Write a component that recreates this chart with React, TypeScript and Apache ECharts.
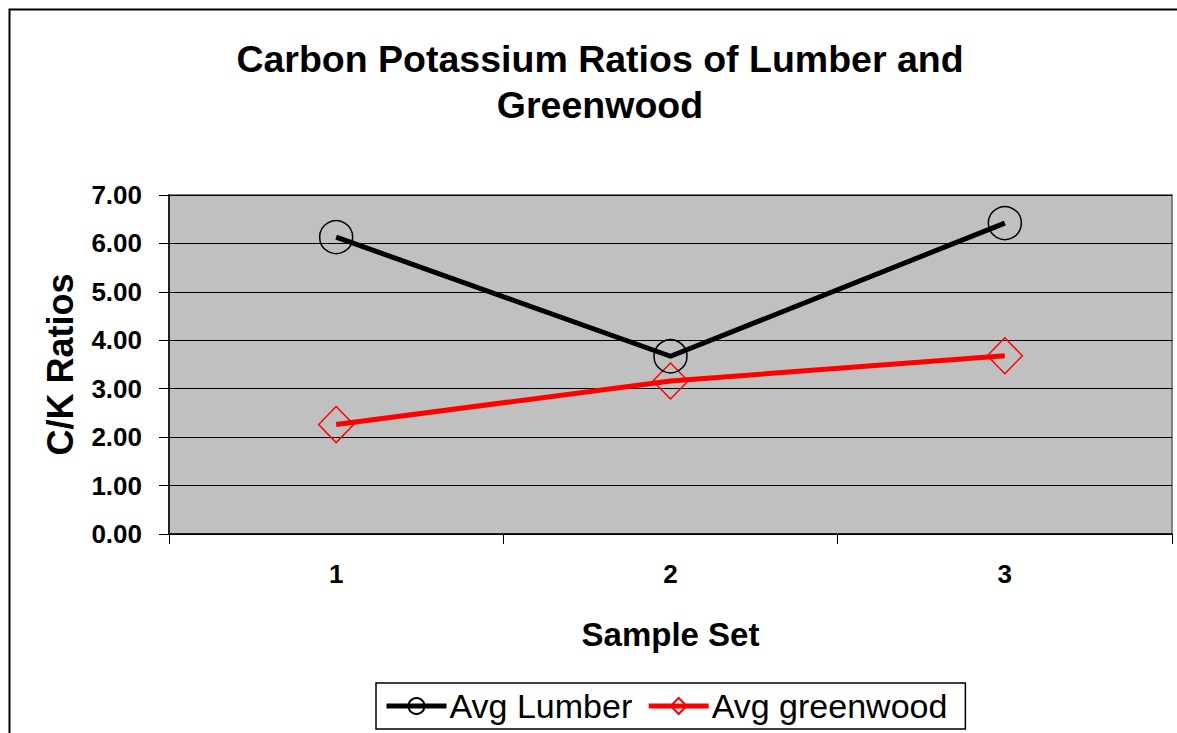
import React, { useEffect, useRef } from "react";
import * as echarts from "echarts";

const categories = ["1", "2", "3"];
const avgLumber = [6.13, 3.67, 6.42];
const avgGreenwood = [2.26, 3.16, 3.68];
const seriesNames = ["Avg Lumber", "Avg greenwood"];
const titleText = "Carbon Potassium Ratios of Lumber and\nGreenwood";
const xAxisName = "Sample Set";
const yAxisName = "C/K Ratios";

const FONT = "'Liberation Sans', Arial, sans-serif";

export default function App() {
  const ref = useRef<HTMLDivElement>(null);
  useEffect(() => {
    if (!ref.current) return;
    const chart = echarts.init(ref.current, undefined, { renderer: "svg" });
    chart.setOption({
      animation: false,
      backgroundColor: "#ffffff",
      textStyle: { fontFamily: FONT },
      graphic: [
        {
          type: "rect",
          shape: { x: 9.5, y: 9.5, width: 1400, height: 1000 },
          style: { fill: "none", stroke: "#000", lineWidth: 2 },
          z: 100,
        },
        {
          type: "text",
          x: 600,
          y: 36,
          style: {
            text: titleText,
            align: "center",
            verticalAlign: "top",
            font: `bold 37.5px ${FONT}`,
            lineHeight: 46,
            fill: "#000",
          },
        },
      ],
      grid: {
        left: 169,
        top: 195,
        right: 5,
        bottom: 199,
        show: true,
        backgroundColor: "#C0C0C0",
        borderColor: "#808080",
        borderWidth: 2,
      },
      legend: {
        data: seriesNames,
        left: 376,
        top: 683,
        orient: "horizontal",
        itemWidth: 60,
        itemHeight: 20,
        itemGap: 14,
        padding: [6, 18, 6, 8],
        borderColor: "#000",
        borderWidth: 1.5,
        backgroundColor: "#fff",
        lineStyle: { width: 5 },
        textStyle: { fontFamily: FONT, fontSize: 34, color: "#000", padding: [0, 0, 0, -2] },
      },
      xAxis: {
        type: "category",
        data: categories,
        boundaryGap: true,
        name: xAxisName,
        nameLocation: "middle",
        nameGap: 84,
        nameTextStyle: { fontFamily: FONT, fontSize: 33, fontWeight: "bold", color: "#000" },
        axisLine: { show: true, lineStyle: { color: "#000", width: 1.5 } },
        axisTick: { show: true, inside: false, length: 10, lineStyle: { color: "#000", width: 1 } },
        axisLabel: { fontFamily: FONT, fontSize: 26, fontWeight: "bold", color: "#000", margin: 27 },
        splitLine: { show: false },
      },
      yAxis: {
        type: "value",
        min: 0,
        max: 7,
        interval: 1,
        name: yAxisName,
        nameLocation: "middle",
        nameRotate: 90,
        nameGap: 91,
        nameTextStyle: { fontFamily: FONT, fontSize: 36, fontWeight: "bold", color: "#000" },
        axisLine: { show: true, lineStyle: { color: "#000", width: 1.5 } },
        axisTick: { show: true, inside: false, length: 10, lineStyle: { color: "#000", width: 1 } },
        axisLabel: {
          fontFamily: FONT,
          fontSize: 26,
          fontWeight: "bold",
          color: "#000",
          margin: 27,
          formatter: (v: number) => v.toFixed(2),
        },
        splitLine: { show: true, lineStyle: { color: "#000", width: 1 } },
      },
      series: [
        {
          name: seriesNames[0],
          type: "line",
          data: avgLumber,
          symbol: "circle",
          symbolSize: 33,
          showAllSymbol: true,
          lineStyle: { color: "#000", width: 5 },
          itemStyle: { color: "transparent", borderColor: "#000", borderWidth: 1.5 },
          z: 3,
        },
        {
          name: seriesNames[1],
          type: "line",
          data: avgGreenwood,
          symbol: "diamond",
          symbolSize: [35, 36],
          showAllSymbol: true,
          lineStyle: { color: "#ff0000", width: 5 },
          itemStyle: { color: "transparent", borderColor: "#ff0000", borderWidth: 1.5 },
          z: 2,
        },
      ],
    });
    return () => chart.dispose();
  }, []);
  return (
    <div
      ref={ref}
      style={{ position: "fixed", left: 0, top: 0, width: 1177, height: 733 }}
    />
  );
}
